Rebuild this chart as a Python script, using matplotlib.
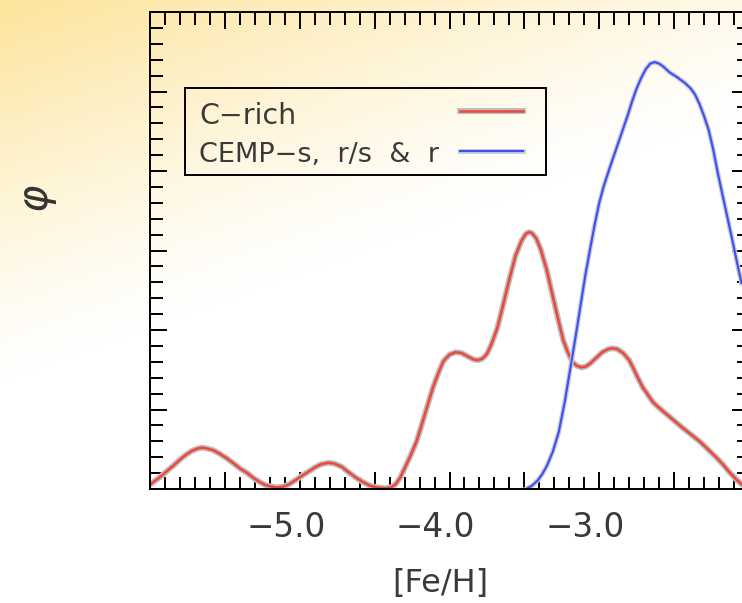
import numpy as np
import matplotlib
matplotlib.use("Agg")
import matplotlib.pyplot as plt
import matplotlib.patheffects as pe
import matplotlib.transforms as mtransforms
from matplotlib.patches import Rectangle
from matplotlib.ticker import FixedLocator, FixedFormatter, MultipleLocator, NullFormatter

# metallicity distribution functions, phi vs [Fe/H]
crich_feh = [-5.99, -5.94, -5.89, -5.84, -5.80, -5.76, -5.72, -5.68, -5.65, -5.62,
             -5.58, -5.54, -5.49, -5.44, -5.40, -5.35, -5.31, -5.27, -5.23, -5.19,
             -5.15, -5.11, -5.07, -5.03, -4.99, -4.94, -4.90, -4.86, -4.81, -4.77,
             -4.72, -4.68, -4.63, -4.58, -4.53, -4.48, -4.43, -4.39, -4.36, -4.33,
             -4.30, -4.26, -4.22, -4.19, -4.15, -4.11, -4.07, -4.04, -4.00, -3.96,
             -3.92, -3.88, -3.84, -3.81, -3.78, -3.75, -3.72, -3.68, -3.64, -3.60,
             -3.56, -3.52, -3.49, -3.47, -3.45, -3.42, -3.39, -3.35, -3.31, -3.27,
             -3.24, -3.21, -3.18, -3.15, -3.12, -3.09, -3.06, -3.02, -2.98, -2.94,
             -2.91, -2.88, -2.84, -2.80, -2.77, -2.74, -2.71, -2.67, -2.64, -2.60,
             -2.55, -2.50, -2.45, -2.39, -2.33, -2.28, -2.22, -2.17, -2.13, -2.09,
             -2.05, -2.00]
crich_phi = [0.07, 0.14, 0.22, 0.30, 0.37, 0.43, 0.48, 0.51, 0.52, 0.51,
             0.49, 0.45, 0.39, 0.32, 0.26, 0.20, 0.14, 0.09, 0.05, 0.03,
             0.02, 0.03, 0.06, 0.11, 0.16, 0.22, 0.27, 0.31, 0.33, 0.32,
             0.28, 0.22, 0.15, 0.09, 0.04, 0.02, 0.01, 0.02, 0.06, 0.14,
             0.26, 0.42, 0.60, 0.78, 1.03, 1.28, 1.48, 1.61, 1.69, 1.72,
             1.71, 1.67, 1.63, 1.62, 1.64, 1.70, 1.82, 2.03, 2.33, 2.64,
             2.93, 3.12, 3.21, 3.23, 3.22, 3.15, 3.01, 2.75, 2.42, 2.10,
             1.87, 1.72, 1.60, 1.55, 1.53, 1.54, 1.58, 1.65, 1.72, 1.76,
             1.77, 1.76, 1.71, 1.62, 1.51, 1.39, 1.28, 1.17, 1.09, 1.02,
             0.94, 0.86, 0.78, 0.69, 0.60, 0.51, 0.40, 0.30, 0.21, 0.13,
             0.06, 0.00]

cemp_feh = [-3.49, -3.45, -3.41, -3.38, -3.35, -3.31, -3.27, -3.23, -3.19, -3.15,
            -3.12, -3.09, -3.06, -3.03, -3.00, -2.97, -2.93, -2.89, -2.85, -2.81,
            -2.78, -2.75, -2.72, -2.69, -2.66, -2.63, -2.60, -2.57, -2.53, -2.48,
            -2.43, -2.39, -2.36, -2.33, -2.30, -2.27, -2.24, -2.21, -2.17, -2.14,
            -2.11, -2.08, -2.05]
cemp_phi = [0.00, 0.04, 0.11, 0.19, 0.29, 0.47, 0.72, 1.10, 1.55, 2.01,
            2.37, 2.72, 3.03, 3.33, 3.60, 3.81, 4.04, 4.26, 4.48, 4.70,
            4.88, 5.04, 5.17, 5.28, 5.35, 5.37, 5.35, 5.31, 5.24, 5.18,
            5.11, 5.04, 4.96, 4.84, 4.69, 4.52, 4.28, 3.99, 3.64, 3.38,
            3.12, 2.85, 2.59]

series_labels = ["C\u2212rich", "CEMP\u2212s,  r/s  &  r"]

xmajor = [-6.0, -5.5, -5.0, -4.5, -4.0, -3.5, -3.0, -2.5, -2.0]
xtick_labels = ["", "", "\u22125.0", "", "\u22124.0", "", "\u22123.0", "", ""]

text_col = "#3a3a3a"
red, blue = "#f0463a", "#3b4ff2"

fig = plt.figure(figsize=(7.42, 6.03), dpi=100)

# warm wash in the upper left corner of the page
bg = fig.add_axes([0, 0, 1, 1], zorder=-10)
bg.axis("off")
yy, xx = np.mgrid[0:603, 0:742]
fade = np.clip(1 - (yy + 0.36 * xx) / 380.0, 0, 1) ** 1.2
warm = np.array([253, 228, 155]) / 255.0
bg.imshow(1 - fade[..., None] * (1 - warm), aspect="auto", interpolation="bilinear")

# axes box in page pixels: x 150..749, y 12..489 (right edge runs off the page)
ax = fig.add_axes([150 / 742, 114 / 603, 599 / 742, 477 / 603])
ax.patch.set_alpha(0)

halo_r = [pe.Stroke(linewidth=4.2, foreground="#bcbcbc"), pe.Normal()]
halo_b = [pe.Stroke(linewidth=3.4, foreground="#c8c8d8"), pe.Normal()]
ax.plot(crich_feh, crich_phi, color=red, lw=1.8,
        solid_joinstyle="round", path_effects=halo_r)
ax.plot(cemp_feh, cemp_phi, color=blue, lw=1.5,
        solid_joinstyle="round", path_effects=halo_b)

ax.set_xlim(-6.0, -2.0)
ax.set_ylim(0, 6)

ax.xaxis.set_major_locator(FixedLocator(xmajor))
ax.xaxis.set_major_formatter(FixedFormatter(xtick_labels))
ax.xaxis.set_minor_locator(MultipleLocator(0.1))
ax.yaxis.set_major_locator(MultipleLocator(1))
ax.yaxis.set_minor_locator(MultipleLocator(0.2))
ax.yaxis.set_major_formatter(NullFormatter())

ax.tick_params(which="both", direction="in", top=True, right=True,
               width=1.4, color="black")
ax.tick_params(which="major", length=12.5)
ax.tick_params(which="minor", length=9)
ax.tick_params(axis="x", labelsize=23.5, pad=16, labelcolor=text_col)
for sp in ax.spines.values():
    sp.set_linewidth(1.4)

# digits sit over the tick, the minus hangs out to the left
shift = mtransforms.ScaledTranslation(-0.14, 0, fig.dpi_scale_trans)
for lab in ax.get_xticklabels():
    lab.set_transform(lab.get_transform() + shift)

ax.set_xlabel("[Fe/H]", fontsize=23, color=text_col)
ax.xaxis.set_label_coords(0.484, -0.165)
ax.set_ylabel(r"$\varphi$", fontsize=30, color="#333333")
ax.yaxis.set_label_coords(-0.152, 0.61)


# key box: labels on the left, line samples on the right
def ax_x(px):
    return (px - 150) / 599


def ax_y(py):
    return (489 - py) / 477


ax.add_patch(Rectangle((ax_x(185), ax_y(175)), 361 / 599, 87 / 477,
                       transform=ax.transAxes, fill=False, lw=1.4,
                       ec="black", clip_on=False, zorder=5))
ax.text(ax_x(199), ax_y(124), series_labels[0], transform=ax.transAxes,
        fontsize=20.5, color=text_col, ha="left", va="baseline")
ax.text(ax_x(199), ax_y(162), series_labels[1], transform=ax.transAxes,
        fontsize=19.5, color=text_col, ha="left", va="baseline")
ax.plot([ax_x(460), ax_x(523)], [ax_y(111)] * 2, transform=ax.transAxes,
        color=red, lw=1.8, path_effects=halo_r, clip_on=False)
ax.plot([ax_x(460), ax_x(523)], [ax_y(151)] * 2, transform=ax.transAxes,
        color=blue, lw=1.5, path_effects=halo_b, clip_on=False)

fig.savefig("out.png", dpi=100)
